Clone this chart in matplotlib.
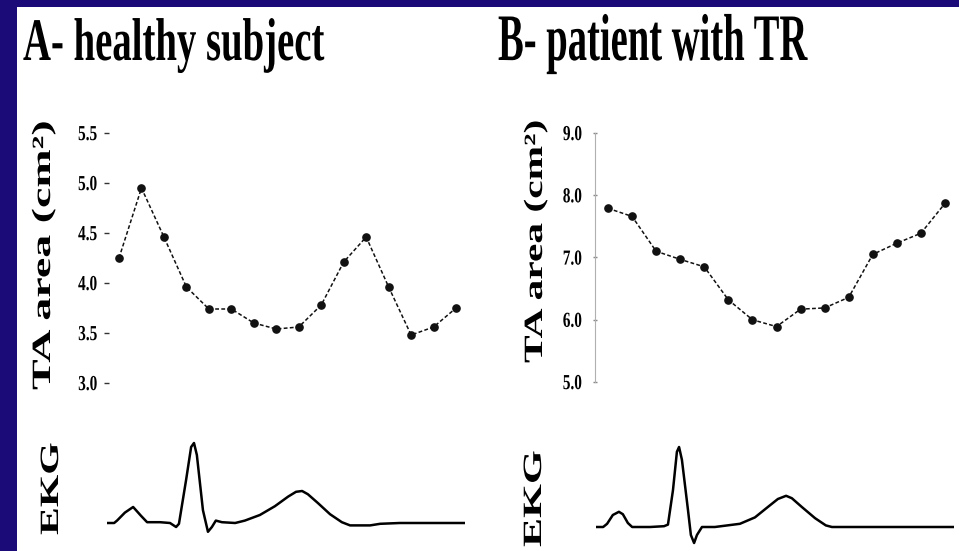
import matplotlib
matplotlib.use("Agg")
import matplotlib.pyplot as plt
from matplotlib.patches import Rectangle
from matplotlib.patheffects import AbstractPathEffect
from matplotlib.transforms import Affine2D
import numpy as np

# TA area through the cardiac cycle (cm^2)
healthy_area = [4.25, 4.95, 4.46, 3.96, 3.74, 3.74, 3.60, 3.54,
                3.56, 3.78, 4.21, 4.46, 3.96, 3.48, 3.56, 3.75]
tr_area = [7.79, 7.66, 7.10, 6.97, 6.85, 6.32, 6.00, 5.89,
           6.17, 6.19, 6.36, 7.05, 7.23, 7.39, 7.87]

healthy_ticks = [3.0, 3.5, 4.0, 4.5, 5.0, 5.5]
tr_ticks = [5.0, 6.0, 7.0, 8.0, 9.0]

# EKG traces, time (ms) and amplitude (mV)
ekg_a_t = [0, 20, 28, 50, 73, 95, 112, 148, 176, 193, 201, 221, 235, 243, 251,
           268, 282, 293, 304, 321, 358, 385, 427, 469, 506, 528, 545, 561, 589,
           623, 656, 679, 735, 763, 818, 1000]
ekg_a_v = [0, 0, 0.03, 0.13, 0.20, 0.09, 0.01, 0.01, 0, -0.05, -0.01, 0.54, 0.95,
           1.0, 0.85, 0.16, -0.11, -0.05, 0.03, 0.01, 0, 0.03, 0.10, 0.21, 0.33,
           0.39, 0.40, 0.36, 0.25, 0.11, 0.01, -0.03, -0.03, -0.01, 0, 0]
ekg_b_t = [0, 20, 31, 47, 64, 75, 89, 101, 151, 190, 201, 215, 226, 232, 240,
           257, 265, 274, 282, 296, 332, 402, 444, 480, 508, 531, 547, 575, 612,
           642, 659, 709, 1000]
ekg_b_v = [0, 0, 0.04, 0.15, 0.19, 0.16, 0.05, 0, 0, 0.01, 0.03, 0.46, 0.94,
           1.0, 0.84, 0.21, -0.10, -0.20, -0.10, 0, 0, 0.04, 0.12, 0.25, 0.35,
           0.39, 0.36, 0.25, 0.11, 0.02, 0, 0, 0]

W, H = 959, 551
NAVY = "#1b0b79"
SERIF = "Liberation Serif"


class Squash(AbstractPathEffect):
    # stretch glyphs in text space, the picture uses condensed/extended type
    def __init__(self, sx=1.0, sy=1.0, cy=0.0):
        super().__init__()
        self.sx, self.sy, self.cy = sx, sy, cy

    def draw_path(self, renderer, gc, tpath, affine, rgbFace=None):
        t = Affine2D().translate(0, -self.cy).scale(self.sx, self.sy).translate(0, self.cy)
        renderer.draw_path(gc, tpath, t + affine, rgbFace)


def px_axes(left, top, right, bottom):
    ax = fig.add_axes([left / W, 1 - bottom / H, (right - left) / W, (bottom - top) / H])
    ax.patch.set_alpha(0)
    for s in ax.spines.values():
        s.set_visible(False)
    return ax


def label(x, y, s, size, sx, sy=1.0, rot=0):
    fig.text(x / W, 1 - y / H, s, fontsize=size, fontweight="bold", family=SERIF,
             rotation=rot, rotation_mode="anchor", ha="left", va="baseline",
             path_effects=[Squash(sx, sy)])


def style_ticklabels(ax):
    for lab in ax.get_yticklabels():
        lab.set_fontfamily(SERIF)
        lab.set_fontweight("bold")
        lab.set_fontsize(11)
        lab.set_path_effects([Squash(1.0, 1.4, 34)])


fig = plt.figure(figsize=(W / 100, H / 100), dpi=100, facecolor=NAVY)
fig.add_artist(Rectangle((17 / W, 0), 1, 1 - 7 / H, transform=fig.transFigure,
                         facecolor="white", edgecolor="none", zorder=-10))

# titles (tall, condensed type)
label(23, 60, "A- healthy subject", 27.9, 1.0, 1.56)
label(498, 60, "B- patient with TR", 27.8, 1.0, 1.72)

# A: healthy subject
ax_a = px_axes(109, 133, 470, 383)
ax_a.plot(np.arange(len(healthy_area)), healthy_area, color="#111111", lw=1.1,
          ls=(0, (2.5, 1.5)), marker="o", ms=5.2)
ax_a.set_xlim(-0.445, 15.62)
ax_a.set_ylim(3.0, 5.5)
ax_a.set_xticks([])
ax_a.set_yticks(healthy_ticks, labels=[f"{v:.1f}" for v in healthy_ticks])
ax_a.tick_params(axis="y", direction="out", length=3.6, width=1, color="#333333", pad=5)
style_ticklabels(ax_a)

# B: patient with TR
ax_b = px_axes(595, 133, 955, 382)
ax_b.spines["left"].set_visible(True)
ax_b.spines["left"].set_color("#b0b0b0")
ax_b.spines["left"].set_linewidth(0.8)
ax_b.plot(np.arange(len(tr_area)), tr_area, color="#111111", lw=1.1,
          ls=(0, (2.5, 1.5)), marker="o", ms=5.2)
ax_b.set_xlim(-0.54, 14.415)
ax_b.set_ylim(5.0, 9.0)
ax_b.set_xticks([])
ax_b.set_yticks(tr_ticks, labels=[f"{v:.1f}" for v in tr_ticks])
ax_b.tick_params(axis="y", direction="inout", length=3, width=1, color="#888888", pad=8)
style_ticklabels(ax_b)

# axis labels
label(50, 390, "TA area (cm²)", 19, 1.74, rot=90)
label(542, 363, "TA area (cm²)", 19, 1.57, rot=90)
label(58, 535, "EKG", 19, 1.58, rot=90)
label(541, 547, "EKG", 19, 1.65, rot=90)

# EKG traces
ax_ea = px_axes(107, 523 - 1.15 * 80, 465, 523 + 0.35 * 80)
ax_ea.plot(ekg_a_t, ekg_a_v, color="black", lw=1.8, solid_joinstyle="round")
ax_eb = px_axes(596, 527 - 1.15 * 80, 954, 527 + 0.35 * 80)
ax_eb.plot(ekg_b_t, ekg_b_v, color="black", lw=1.8, solid_joinstyle="round")
for ax in (ax_ea, ax_eb):
    ax.set_xlim(0, 1000)
    ax.set_ylim(-0.35, 1.15)
    ax.axis("off")

fig.savefig("out.png", dpi=100, facecolor=NAVY)
